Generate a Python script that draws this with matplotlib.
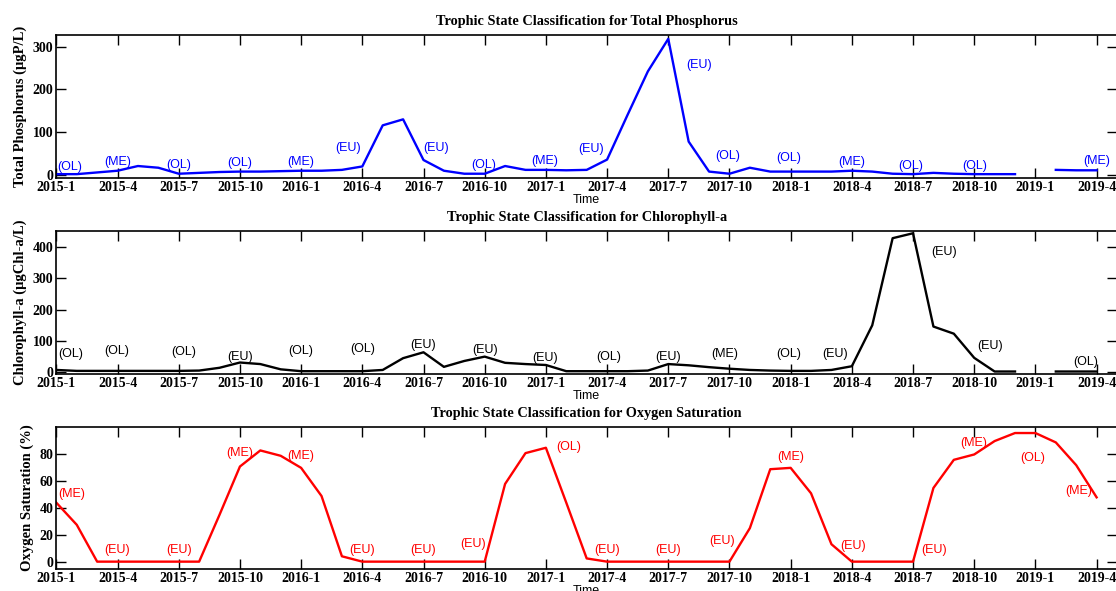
import numpy as np
import matplotlib
matplotlib.use('Agg')
import matplotlib.pyplot as plt

nan = np.nan
# months since 2015-1 (0 .. 51 = 2019-4)
month = np.arange(52)
tick_pos = np.arange(0, 52, 3)
tick_lab = ['2015-1','2015-4','2015-7','2015-10','2016-1','2016-4','2016-7','2016-10',
            '2017-1','2017-4','2017-7','2017-10','2018-1','2018-4','2018-7','2018-10',
            '2019-1','2019-4']

tp = [2,2,6,10,21,17,3,5,7,8,8,9,10,10,12,20,116,130,35,10,3,3,21,12,12,
      11,12,36,140,242,318,78,8,3,17,8,8,8,8,10,8,3,2,5,3,2,2,2,nan,12,11,11]
chl = [5,2,2,2,2,2,2,3,12,29,24,7,1,1,1,1,5,43,62,15,34,48,28,24,21,
       1,1,1,1,3,24,20,14,9,5,3,2,2,5,17,149,430,446,145,122,44,0,0,nan,0,0,0]
dos = [44,27.5,0,0,0,0,0,0,35,71,83,79,70,49,4,0,0,0,0,0,0,0,58,81,85,
       44,2.4,0,0,0,0,0,0,0,25,69,70,51,13,0,0,0,0,55,76,80,90,96,96,89,72,48]

# trophic state labels (x in months, y in data units)
tp_cls = ['(OL)','(ME)','(OL)','(OL)','(ME)','(EU)','(EU)','(OL)','(ME)','(EU)','(EU)',
          '(OL)','(OL)','(ME)','(OL)','(OL)','(ME)']
tp_lx = [0.65,3.0,6.0,9.0,12.0,14.3,18.6,20.96,23.95,26.2,31.5,32.9,35.9,39.0,41.9,45.0,51.0]
tp_ly = [19,31,24,28,30,62,63,24,32,60,257,45,39,30,21,21,32]

chl_cls = ['(OL)','(OL)','(OL)','(EU)','(OL)','(OL)','(EU)','(EU)','(EU)','(OL)','(EU)',
           '(ME)','(OL)','(EU)','(EU)','(EU)','(OL)']
chl_lx = [0.7,2.96,6.25,9.0,12.0,15.0,18.0,21.0,23.95,27.1,30.0,32.75,35.9,38.2,43.5,45.8,50.45]
chl_ly = [55,65,63,48,65,72,87,69,44,46,46,57,55,57,386,81,31]

do_cls = ['(ME)','(EU)','(EU)','(ME)','(ME)','(EU)','(EU)','(EU)','(OL)','(EU)','(EU)',
          '(EU)','(ME)','(EU)','(EU)','(ME)','(OL)','(ME)']
do_lx = [0.74,3.0,6.0,8.97,12.0,15.0,18.0,20.45,25.1,27.0,30.0,32.65,36.0,39.05,43.05,44.97,47.87,50.13]
do_ly = [50.7,8.5,8.5,81,79,8.5,8.5,13.4,85.8,8.5,8.5,15.5,77.8,12,8.5,88.5,77,53]

serif = 'Liberation Serif'
sans = 'Liberation Sans'

panels = [
    ('Trophic State Classification for Total Phosphorus', 'Total Phosphorus (μgP/L)',
     tp, 'blue', tp_cls, tp_lx, tp_ly, (-7, 327), [0,100,200,300], [0.0505,0.6988,0.9504,0.2420]),
    ('Trophic State Classification for Chlorophyll-a', 'Chlorophyll-a (μgChl-a/L)',
     chl, 'black', chl_cls, chl_lx, chl_ly, (-8, 452), [0,100,200,300,400], [0.0505,0.3672,0.9504,0.2413]),
    ('Trophic State Classification for Oxygen Saturation', 'Oxygen Saturation (%)',
     dos, 'red', do_cls, do_lx, do_ly, (-5.5, 100.5), [0,20,40,60,80], [0.0505,0.0372,0.9504,0.2403]),
]

fig = plt.figure(figsize=(11.16, 5.91), dpi=100)
for title, ylab, y, col, cls, lx, ly, ylim, yt, pos in panels:
    ax = fig.add_axes(pos)
    ax.plot(month, y, color=col, lw=1.7)
    for c, xx, yy in zip(cls, lx, ly):
        ax.text(xx, yy, c, color=col, fontsize=9, family=sans, ha='center', va='center')
    ax.set_xlim(0, 52)
    ax.set_ylim(*ylim)
    ax.set_xticks(tick_pos)
    ax.set_xticklabels(tick_lab, fontsize=10, family=serif, fontweight='bold')
    ax.set_yticks(yt)
    ax.set_yticklabels([str(v) for v in yt], fontsize=10, family=serif, fontweight='bold')
    ax.tick_params(direction='in', length=7.5, width=1, top=True, right=True, pad=2)
    ax.set_title(title, fontsize=10.3, family=serif, fontweight='bold', pad=7.5)
    ax.set_ylabel(ylab, fontsize=10.5, family=serif, fontweight='bold', labelpad=4)
    ax.set_xlabel('Time', fontsize=9, family=sans, labelpad=0)
    for s in ax.spines.values():
        s.set_linewidth(1.2)

plt.savefig('out.png', dpi=100)
